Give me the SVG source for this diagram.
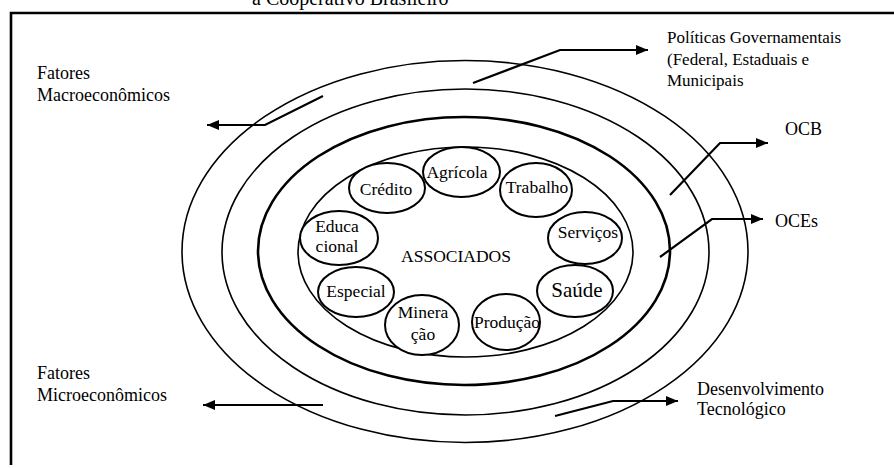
<svg xmlns="http://www.w3.org/2000/svg" width="894" height="468" viewBox="0 0 894 468">
<defs>
<style>
text{font-family:"Liberation Serif","Times New Roman",serif;fill:#000}
.lbl{font-size:18px}
.pol{font-size:17px}
.in{font-size:17.5px;text-anchor:middle}
.ring{fill:none;stroke:#000;stroke-width:1.6}
.thick{stroke-width:2.6}
.node{fill:#fff;stroke:#000;stroke-width:2}
.arrow{fill:none;stroke:#000;stroke-width:2.2;marker-end:url(#ah)}
</style>
<marker id="ah" markerUnits="userSpaceOnUse" markerWidth="13" markerHeight="13" viewBox="0 0 13 13" refX="12" refY="6.5" orient="auto">
<path d="M0,1.5 L12,6.5 L0,11.5 Z" fill="#000"/>
</marker>
</defs>
<rect width="894" height="468" fill="#fff"/>
<g id="frame">
<text x="252" y="5" style="font-size:20px">a Cooperativo Brasileiro</text>
<path d="M11,465 V13 H894" fill="none" stroke="#000" stroke-width="2.6"/>
</g>
<g id="rings">
<ellipse id="ring-outer" class="ring" cx="465" cy="251.5" rx="283" ry="191"/>
<ellipse id="ring-ocb" class="ring" cx="465.5" cy="252" rx="243.5" ry="163"/>
<ellipse id="ring-oces" class="ring thick" cx="464" cy="251" rx="206" ry="134"/>
<ellipse id="ring-associados" class="ring" cx="465.5" cy="252" rx="167.5" ry="105"/>
</g>
<g id="associados"><text class="in" x="456" y="262">ASSOCIADOS</text></g>
<g id="agricola"><ellipse class="node" cx="461.5" cy="172" rx="38.5" ry="25"/><text class="in" x="457" y="178">Agrícola</text></g>
<g id="credito"><ellipse class="node" cx="387" cy="188" rx="38" ry="25"/><text class="in" x="386" y="195">Crédito</text></g>
<g id="trabalho"><ellipse class="node" cx="536" cy="190" rx="36" ry="27"/><text class="in" x="537" y="193">Trabalho</text></g>
<g id="servicos"><ellipse class="node" cx="585" cy="238" rx="37" ry="26"/><text class="in" x="588" y="238">Serviços</text></g>
<g id="saude"><ellipse class="node" cx="575" cy="291" rx="38" ry="26"/><text class="in" x="577" y="297" style="font-size:21px">Saúde</text></g>
<g id="producao"><ellipse class="node" cx="506" cy="322" rx="34" ry="28"/><text class="in" x="507" y="328">Produção</text></g>
<g id="mineracao"><ellipse class="node" cx="422" cy="325" rx="37" ry="30"/><text class="in" x="423" y="318">Minera</text><text class="in" x="423" y="340">ção</text></g>
<g id="especial"><ellipse class="node" cx="356" cy="292" rx="38" ry="25"/><text class="in" x="356" y="297">Especial</text></g>
<g id="educacional"><ellipse class="node" cx="339" cy="238" rx="39" ry="27"/><text class="in" x="337" y="232">Educa</text><text class="in" x="337" y="252">cional</text></g>
<g id="connectors">
<path class="arrow" d="M323,96 L265,125 H207"/>
<path class="arrow" d="M473,83 L560,50 H648"/>
<path class="arrow" d="M670,195 L720,143 H768"/>
<path class="arrow" d="M660,257 L712,219 H763"/>
<path class="arrow" d="M323,405 H203"/>
<path class="arrow" d="M555,416 L613,401 H678"/>
</g>
<g id="label-macro"><text class="lbl" x="37" y="79">Fatores</text><text class="lbl" x="37" y="101">Macroeconômicos</text></g>
<g id="label-politicas"><text class="pol" x="667" y="43">Políticas Governamentais</text><text class="pol" x="667" y="65">(Federal, Estaduais e</text><text class="pol" x="667" y="86">Municipais</text></g>
<g id="label-ocb"><text class="lbl" x="785" y="135">OCB</text></g>
<g id="label-oces"><text class="lbl" x="775" y="227">OCEs</text></g>
<g id="label-micro"><text class="lbl" x="37" y="379">Fatores</text><text class="lbl" x="37" y="401">Microeconômicos</text></g>
<g id="label-tec"><text class="lbl" x="697" y="395">Desenvolvimento</text><text class="lbl" x="697" y="415">Tecnológico</text></g>
</svg>
